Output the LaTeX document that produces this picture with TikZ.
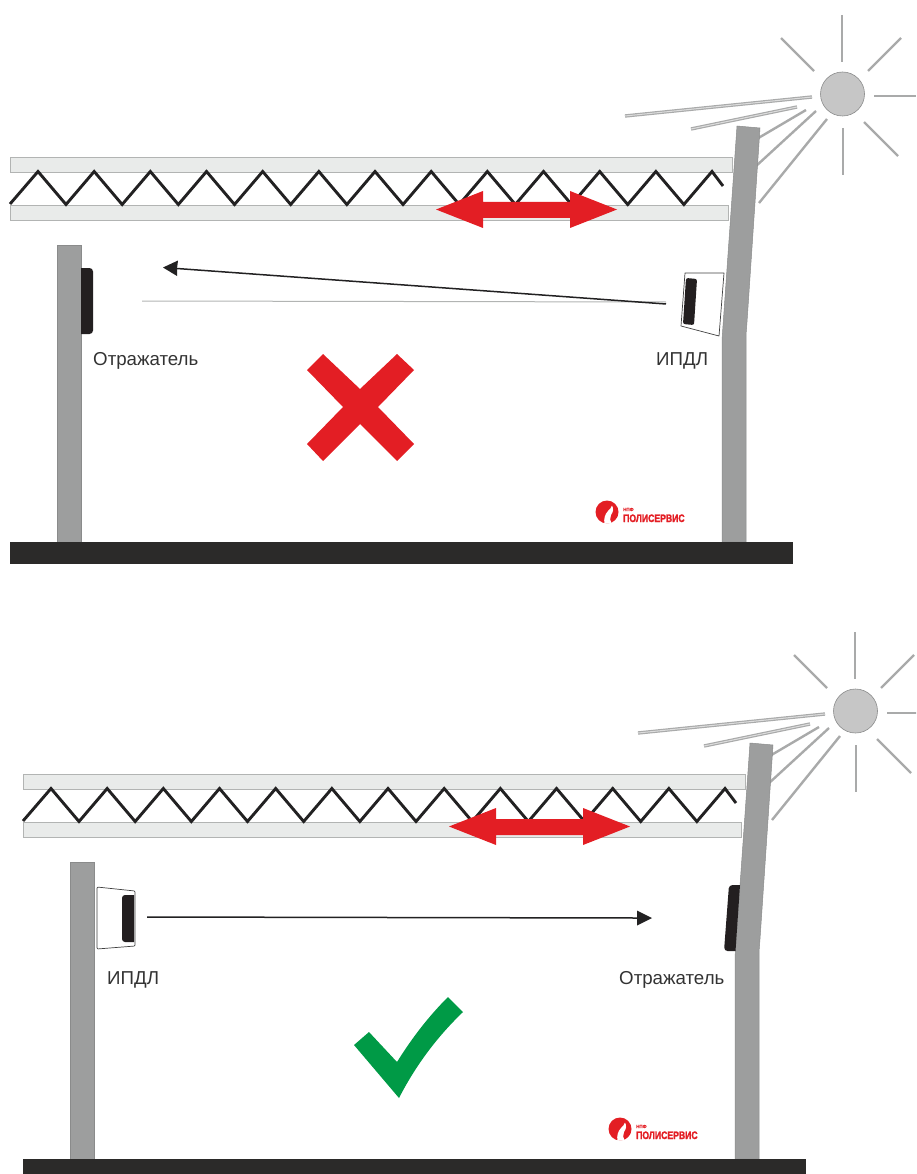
\documentclass[tikz,border=0pt]{standalone}
\usepackage{fontspec}
\setmainfont{Liberation Sans}
\newfontfamily\logofont[FakeBold=2.2]{Liberation Sans Bold}
\definecolor{panelfill}{HTML}{E9EBEA}
\definecolor{panelline}{HTML}{B2B4B3}
\definecolor{postfill}{HTML}{9D9E9E}
\definecolor{postline}{HTML}{8A8B8B}
\definecolor{zigzag}{HTML}{222122}
\definecolor{redmark}{HTML}{E31E24}
\definecolor{greenmark}{HTML}{009A46}
\definecolor{raygray}{HTML}{A9AAAA}
\definecolor{sunfill}{HTML}{C6C6C6}
\definecolor{inkblack}{HTML}{231F20}
\definecolor{groundfill}{HTML}{2B2A29}
\tikzset{
  panelbar/.style={fill=panelfill,draw=panelline,line width=.8pt},
  zigline/.style={draw=zigzag,line width=2.9pt,line join=miter},
  postbody/.style={fill=postfill,draw=postline,line width=.5pt},
  sunray/.style={draw=raygray,line width=2.4pt},
  longray/.style={draw=raygray,line width=3.4pt},
  longrayinner/.style={draw=sunfill!60!white,line width=1pt},
  blackpart/.style={fill=inkblack,draw=none},
  housing/.style={fill=white,draw=black!75,line width=.7pt,line join=round},
  beam/.style={draw=zigzag,line width=1.5pt},
  beamhead/.style={fill=zigzag,draw=none},
  label/.style={inner sep=0pt,font=\fontsize{18.7}{21}\selectfont,text=black!80},
  logobig/.style={inner sep=0pt,font=\logofont\fontsize{10.8}{12}\selectfont,text=redmark,xscale=.8,transform shape},
  logosmall/.style={inner sep=0pt,font=\logofont\fontsize{4.5}{5}\selectfont,text=redmark},
}
\newcommand{\commonscene}[1]{%
  \coordinate (#1s) at (842.5,94);
  \draw[sunray] (842,15) -- (842,62);
  \draw[sunray] (781,38) -- (814,71);
  \draw[sunray] (901,38) -- (868,71);
  \draw[sunray] (874,96) -- (916,96);
  \draw[sunray] (864,122) -- (898,156);
  \draw[sunray] (843,128) -- (843,175);
  \draw[sunray] (755,140) -- (806,110);
  \draw[sunray] (755,167) -- (816,111);
  \draw[sunray] (759,203) -- (827,119);
  \draw[longray] (625,116) -- (812,97);
  \draw[longrayinner] (625,116) -- (812,97);
  \draw[longray] (691,129) -- (797,107);
  \draw[longrayinner] (691,129) -- (797,107);
  \node[circle,minimum size=44pt,inner sep=0pt,fill=sunfill,draw=postline,line width=.6pt] (#1sun) at (#1s) {};
  \draw[panelbar] (10,157) rectangle (732,172);
  \draw[panelbar] (10,205) rectangle (728,220);
  \draw[zigline] (10,204)
    \foreach \k in {0,...,11}{ -- ({38+56.17*\k},171.5) -- ({66+56.17*\k},204.5)}
    -- (712,171.5) -- (723,186);
  \fill[redmark] (436,209.5) -- (483,191) -- (483,202) -- (570,202) -- (570,191)
     -- (617,209.5) -- (570,228) -- (570,218) -- (483,218) -- (483,228) -- cycle;
  \draw[postbody] (57,245) rectangle (81,542);
  \draw[postbody] (737,126) -- (760,128) -- (747,322) -- (746,335) -- (746,542) -- (722,542) -- (722,340) -- cycle;
  \fill[groundfill] (10,542) rectangle (793,564);
  \node[circle,minimum size=23pt,inner sep=0pt,fill=redmark] (#1logo) at (607,512) {};
  \fill[white] (604.5,523.8) .. controls (603.5,519) and (605,514) .. (608,511)
     .. controls (610,509) and (611.5,507.5) .. (612,505.5)
     .. controls (614,509) and (613,512) .. (611,515)
     .. controls (609.5,518) and (610,521) .. (611.5,523.2) -- cycle;
  \node[logobig,anchor=base west] (#1brand) at (623,522) {ПОЛИСЕРВИС};
  \node[logosmall,anchor=base west] (#1npf) at (623,511) {НПФ};
}
\begin{document}
\begin{tikzpicture}[x=1pt,y=-1pt]
\clip (0,0) rectangle (916,1174);
% ---------- top: wrong mounting ----------
\commonscene{a}
\fill[blackpart] (81,268) [rounded corners=3.5pt] -- (93,268) -- (93,334) [sharp corners] -- (81,334) -- cycle;
\node[label,anchor=base west] (arefl) at (93,365) {Отражатель};
\draw[housing] (685,273) -- (724,273) -- (719,336) -- (681,326) -- cycle;
\fill[blackpart,rounded corners=2pt] (686,278) -- (697,279) -- (694,325) -- (683,324) -- cycle;
\node[label,anchor=base west] (aipdl) at (656,365) {ИПДЛ};
\coordinate (abeamA) at (666,302);
\coordinate (abeamB) at (142,301);
\draw[draw=panelline,line width=1pt] (abeamA) -- (abeamB);
\coordinate (adirA) at (666,304);
\coordinate (adirB) at (177,268.5);
\coordinate (adirTip) at (163,267.5);
\draw[beam] (adirA) -- (adirB);
\fill[beamhead] (adirTip) -- (178,260.5) -- (177,268.5) -- (177,276) -- cycle;
\fill[redmark] (323,354) -- (360,389) -- (397,354) -- (414,370) -- (378,407) -- (414,444)
  -- (397,461) -- (360,424) -- (323,461) -- (307,444) -- (343,407) -- (307,370) -- cycle;
% ---------- bottom: right mounting ----------
\begin{scope}[shift={(13,617)}]
\commonscene{b}
\end{scope}
\draw[housing,rounded corners=1pt] (97,887) -- (135,891) -- (135,946) -- (97,949) -- cycle;
\fill[blackpart] (134,895) [rounded corners=3pt] -- (122,895) -- (122,942) [sharp corners] -- (134,942) -- cycle;
\node[label,anchor=base west] (bipdl) at (107,984) {ИПДЛ};
\coordinate (bbeamA) at (147,917);
\coordinate (bbeamB) at (638,918);
\coordinate (bbeamTip) at (652,918);
\draw[beam] (bbeamA) -- (bbeamB);
\fill[beamhead] (bbeamTip) -- (637,910.5) -- (637,925.5) -- cycle;
\fill[blackpart] (740,885) [rounded corners=3.5pt] -- (729,885) -- (724,951) [sharp corners] -- (735.5,951) -- cycle;
\node[label,anchor=base west] (brefl) at (619,984) {Отражатель};
\fill[greenmark] (354,1045) -- (369,1032) -- (397,1062)
  .. controls (412,1038) and (428,1017) .. (448,997)
  -- (463,1012) .. controls (437,1037) and (416,1065) .. (399,1098) -- cycle;
\end{tikzpicture}
\end{document}
